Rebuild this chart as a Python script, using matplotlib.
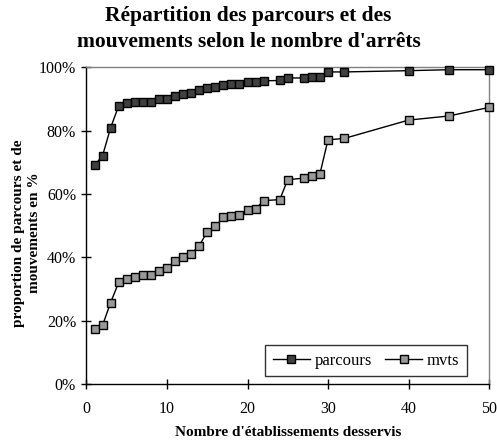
import matplotlib
matplotlib.use('Agg')
import matplotlib.pyplot as plt
from matplotlib.ticker import FuncFormatter

plt.rcParams['font.family'] = ['Liberation Serif', 'DejaVu Serif']

# nombre d'etablissements desservis
arrets = [1, 2, 3, 4, 5, 6, 7, 8, 9, 10, 11, 12, 13, 14, 15, 16, 17, 18, 19, 20,
          21, 22, 24, 25, 27, 28, 29, 30, 32, 40, 45, 50]
# % cumules
parcours = [69.0, 72.1, 80.9, 87.8, 88.6, 89.1, 89.1, 89.1, 90.0, 90.0, 90.9, 91.4,
            91.9, 92.7, 93.5, 93.9, 94.4, 94.8, 94.8, 95.4, 95.4, 95.7, 95.8, 96.6,
            96.6, 97.0, 97.0, 98.5, 98.5, 98.9, 99.2, 99.2]
mvts = [17.4, 18.6, 25.7, 32.1, 33.3, 33.8, 34.3, 34.3, 35.6, 36.5, 38.7, 40.2,
        41.1, 43.7, 48.0, 49.8, 52.6, 53.1, 53.5, 54.8, 55.2, 57.9, 58.2, 64.5,
        65.0, 65.8, 66.4, 77.1, 77.5, 83.3, 84.6, 87.3]

fig = plt.figure(figsize=(4.97, 4.42), dpi=100)
ax = fig.add_axes([0.174, 0.131, 0.81, 0.717])

ax.plot(arrets, parcours, 's-', color='black', lw=1, ms=6,
        mfc='#404040', mec='black', mew=1, label='parcours', clip_on=False, zorder=3)
ax.plot(arrets, mvts, 's-', color='black', lw=1, ms=6,
        mfc='#999999', mec='black', mew=1, label='mvts', clip_on=False, zorder=3)

ax.set_xlim(0, 50)
ax.set_ylim(0, 100)
ax.set_xticks([0, 10, 20, 30, 40, 50])
ax.set_yticks([0, 20, 40, 60, 80, 100])
ax.yaxis.set_major_formatter(FuncFormatter(lambda v, p: '%d%%' % v))
ax.tick_params(direction='inout', length=7, width=1, labelsize=11.5)
ax.tick_params(axis='x', pad=9)
ax.tick_params(axis='y', pad=4)

ax.spines['left'].set_color('black')
ax.spines['bottom'].set_color('black')
ax.spines['top'].set_color('#808080')
ax.spines['right'].set_color('#808080')
for s in ax.spines.values():
    s.set_linewidth(1)

fig.text(0.5, 0.964, "Répartition des parcours et des", ha='center', va='center',
         fontsize=15.5, fontweight='bold')
fig.text(0.5, 0.905, "mouvements selon le nombre d'arrêts", ha='center', va='center',
         fontsize=15.5, fontweight='bold')
ax.set_xlabel("Nombre d'établissements desservis", fontsize=11, fontweight='bold', labelpad=6)
fig.text(0.054, 0.473, "proportion de parcours et de\nmouvements en %", rotation=90,
         ha='center', va='center', multialignment='center', fontsize=11,
         fontweight='bold', linespacing=1.3)

leg = ax.legend(loc='lower right', ncol=2, fontsize=12, frameon=True, fancybox=False,
                edgecolor='black', handlelength=2.2, handletextpad=0.3, columnspacing=0.8,
                borderpad=0.45, borderaxespad=0, bbox_to_anchor=(0.945, 0.025))
leg.get_frame().set_linewidth(1)

fig.savefig('out.png', dpi=100)
